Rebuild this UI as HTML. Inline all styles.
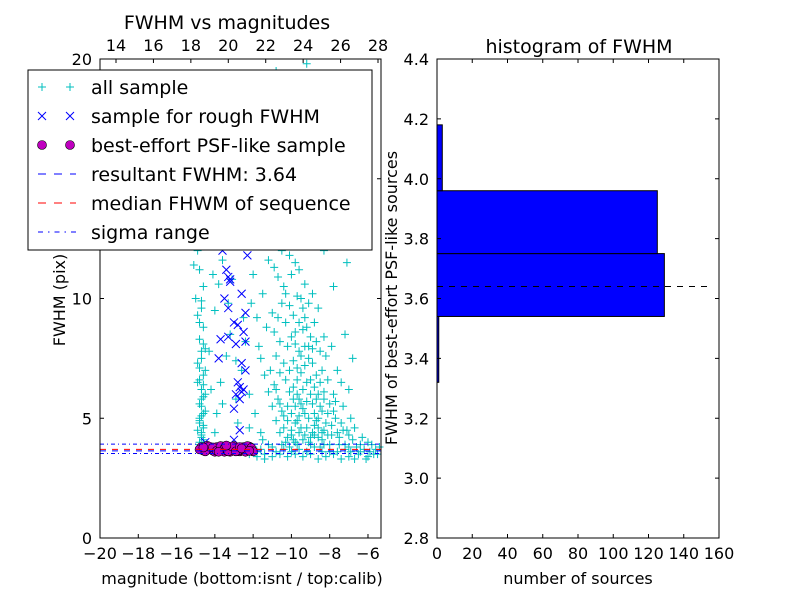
<!DOCTYPE html>
<html><head><meta charset="utf-8"><style>
body{margin:0;background:#fff;}
svg{display:block;font-family:"DejaVu Sans","Liberation Sans",sans-serif;}
</style></head><body>
<svg id="fig" width="800" height="600" xmlns="http://www.w3.org/2000/svg">
<rect width="800" height="600" fill="#fff"/>
<g id="left"></g>
<g id="right"></g>
</svg>
<script>
// ---- data ----
const xTicksBottom = [-20,-18,-16,-14,-12,-10,-8,-6];
const xTicksTop = [14,16,18,20,22,24,26,28];
const yTicksLeft = [0,5,10,15,20];
const resultantFwhm = 3.64;
const medianFwhm = 3.7;
const sigmaRange = [3.53, 3.92];
const allPts = [[-10.2,4.2],[-10.0,4.5],[-9.8,4.8],[-9.6,5.1],[-9.4,5.4],[-9.2,5.7],[-9.0,6.0],[-8.8,5.2],[-8.6,4.6],[-8.4,4.1],[-9.9,6.3],[-9.7,6.6],[-9.5,6.9],[-9.3,7.2],[-9.1,7.5],[-9.6,7.8],[-9.8,8.1],[-10.0,8.4],[-9.4,8.7],[-10.3,9.0],[-9.9,9.3],[-10.1,9.7],[-9.7,10.1],[-10.4,10.5],[-10.0,11.0],[-9.8,11.5],[-10.5,12.0],[-9.5,12.5],[-10.2,13.0],[-9.3,13.8],[-10.6,14.5],[-9.0,15.2],[-10.0,16.0],[-9.6,17.5],[-9.2,19.8],[-8.9,4.4],[-8.7,4.9],[-8.5,5.5],[-8.3,6.1],[-8.1,4.3],[-7.9,4.7],[-7.7,5.0],[-7.5,4.2],[-7.3,4.5],[-8.0,3.9],[-9.1,4.0],[-9.3,4.3],[-9.5,4.6],[-9.7,4.9],[-10.5,5.3],[-10.7,5.8],[-10.9,6.4],[-11.1,7.0],[-10.8,7.6],[-10.6,8.2],[-11.3,8.8],[-11.0,9.4],[-11.5,10.2],[-10.9,11.3],[-11.8,12.2],[-9.0,8.4],[-8.8,9.0],[-8.6,9.6],[-8.4,7.0],[-8.2,7.6],[-9.2,6.5],[-9.4,6.2],[-9.6,5.8],[-9.8,5.5],[-10.0,5.2],[-10.2,4.9],[-10.4,4.6],[-8.7,6.8],[-8.9,7.3],[-9.1,8.0],[-9.3,9.2],[-9.5,10.0],[-9.7,3.9],[-9.9,4.1],[-10.1,3.8],[-8.5,3.8],[-8.3,4.5],[-8.1,5.2],[-7.8,6.0],[-7.6,4.4],[-7.2,3.9],[-6.8,4.1],[-6.5,3.5],[-6.2,3.7],[-6.0,3.4],[-5.8,3.9],[-5.5,3.5],[-7.0,3.4],[-6.6,3.8],[-7.4,3.3],[-7.8,3.5],[-8.2,3.4],[-8.6,3.3],[-9.0,3.5],[-9.4,3.4],[-9.8,3.5],[-10.2,3.4],[-10.6,3.5],[-11.0,3.4],[-11.4,3.5],[-11.8,3.6],[-12.2,3.5],[-10.8,3.6],[-11.6,3.7],[-12.0,3.8],[-11.2,3.9],[-10.4,3.7],[-9.6,3.7],[-8.8,3.8],[-8.0,3.6],[-7.2,3.7],[-6.4,3.6],[-5.6,3.7],[-7.1,4.5],[-6.9,5.0],[-7.3,5.5],[-13.0,12.5],[-12.3,13.5],[-11.5,15.0],[-12.8,16.5],[-13.9,18.0],[-14.5,15.5],[-11.2,18.5],[-10.8,19.5],[-12.0,17.2],[-13.5,14.2],[-14.2,13.2],[-15.0,10.0],[-14.0,9.5],[-13.2,8.5],[-12.5,9.2],[-12.0,11.0],[-11.7,8.0],[-12.6,7.0],[-13.7,6.5],[-13.1,10.8],[-12.2,6.0],[-11.9,5.2],[-12.8,4.8],[-7.8,10.5],[-7.2,8.5],[-7.5,12.8],[-6.8,7.5],[-7.0,6.2],[-12.9,5.8],[-13.4,7.6],[-12.4,8.2],[-14.3,7.8],[-13.6,11.6],[-8.0,19.0],[-9.4,18.5],[-8.4,16.5],[-10.3,17.0],[-11.1,13.2],[-12.7,19.2],[-13.3,9.8],[-14.8,3.9],[-14.6,4.1],[-14.7,4.3],[-14.9,4.5],[-14.6,4.7],[-14.8,4.9],[-14.7,5.1],[-14.5,5.3],[-14.8,5.6],[-14.6,5.9],[-14.7,6.2],[-14.9,6.5],[-14.6,6.8],[-14.8,7.1],[-14.7,7.5],[-14.5,7.9],[-14.8,8.3],[-14.6,8.8],[-14.9,9.3],[-14.7,9.9],[-14.6,10.5],[-14.8,11.2],[-14.7,4.2],[-14.6,4.6],[-14.8,5.0],[-14.7,5.5],[-14.5,6.0],[-14.9,7.3],
[-9.0,4.2],[-9.2,4.6],[-8.8,4.3],[-8.6,5.0],[-8.4,5.3],[-9.1,5.0],[-9.3,5.2],[-8.9,5.6],[-8.7,5.8],[-9.5,5.6],[-9.7,6.0],[-9.9,5.8],[-10.1,6.1],[-10.3,6.6],[-10.1,7.0],[-9.9,7.4],[-9.7,7.1],[-9.5,7.6],[-9.3,8.0],[-9.8,8.6],[-10.2,8.0],[-10.4,7.3],[-10.6,6.9],[-10.8,6.2],[-10.6,5.6],[-10.4,5.1],[-10.2,5.5],[-9.0,6.6],[-8.8,6.3],[-8.6,6.0],[-8.5,6.5],[-8.3,5.8],[-8.1,6.6],[-8.0,5.6],[-7.8,5.3],[-7.9,4.3],[-8.2,4.8],[-8.4,4.4],[-8.6,4.2],[-8.8,4.7],[-9.4,4.1],[-9.6,4.4],[-9.8,4.0],[-10.0,4.3],[-10.3,4.0],[-10.6,4.4],[-10.8,4.9],[-11.0,5.5],[-11.2,6.1],[-11.4,6.8],[-11.6,7.5],[-10.9,8.6],[-10.7,9.2],[-10.5,9.8],[-10.3,10.2],[-10.7,10.9],[-11.2,11.6],[-10.1,11.8],[-9.6,11.2],[-9.3,10.6],[-9.1,9.8],[-8.9,10.2],[-8.7,8.2],[-8.5,7.8],[-8.3,8.4],[-8.9,7.9],[-9.2,8.8],[-9.4,9.6],[-9.6,9.0],[-10.4,12.8],[-10.9,13.6],[-9.8,14.2],[-10.3,15.4],[-9.4,16.2],[-10.7,16.8],[-8.7,14.0],[-8.3,12.0],[-7.9,8.0],[-7.6,7.0],[-7.4,6.5],[-7.7,5.7],[-7.4,4.8],[-7.0,4.3],[-6.7,4.6],[-6.3,4.2],[-6.0,4.0],[-5.9,3.6],[-6.1,3.3],[-6.7,3.3],[-7.6,3.6],[-8.4,3.6],[-9.2,3.6],[-10.0,3.6],[-11.4,3.3],[-11.8,3.4],[-12.1,3.7],[-7.0,3.8],[-6.4,3.9],[-6.9,3.6],[-5.7,3.5],[-5.4,3.8],[-7.5,3.9],[-8.3,3.9],[-9.0,3.9],[-10.5,3.9],[-11.0,3.8],[-11.5,4.1],
[-14.6,4.0],[-14.7,4.4],[-14.8,4.8],[-14.6,5.2],[-14.7,5.8],[-14.6,6.4],[-14.8,6.6],[-14.5,7.0],[-14.7,7.8],[-14.6,8.1],[-14.8,9.0],[-14.7,9.6],[-14.6,3.8],[-14.8,4.0],
[-14.9,12.0],[-15.1,11.4],[-13.8,10.6],[-14.1,11.0],[-13.9,16.0],[-11.9,14.2],[-11.4,16.0],[-12.4,14.8],[-13.6,17.2],[-9.7,19.0],[-8.6,18.0],[-7.7,17.5],[-7.3,15.0],[-6.9,13.2],[-7.1,11.5],[-12.1,9.8],[-11.8,9.2],[-12.9,7.4],[-12.2,4.6],[-11.6,4.4],[-13.9,5.2],[-14.2,6.2],[-13.6,5.6],[-14.0,4.4]];
const roughPts = [[-13.2,10.8],[-13.5,10.0],[-13.0,9.0],[-13.3,9.6],[-12.8,8.9],[-12.5,8.6],[-12.4,8.2],[-13.7,8.3],[-13.3,8.4],[-12.6,7.3],[-12.4,7.0],[-12.8,6.5],[-12.9,6.0],[-12.7,5.8],[-12.5,6.2],[-13.0,5.4],[-12.7,4.5],[-13.1,13.8],[-12.9,12.2],[-13.6,12.0],[-12.3,11.8],[-13.4,11.2],[-12.6,10.2],[-12.4,9.4],[-13.8,7.5],[-13.3,10.9],[-13.2,10.7],[-12.7,6.3],[-12.6,6.1],[-12.9,8.1],[-13.0,4.1],[-14.5,4.0]];
const psfPts = [[-14.7,3.8],[-14.5,3.7],[-14.3,3.75],[-14.1,3.65],[-13.9,3.8],[-13.7,3.7],[-13.5,3.6],[-13.3,3.78],[-13.1,3.68],[-12.9,3.72],[-12.7,3.62],[-12.5,3.8],[-12.3,3.7],[-12.1,3.65],[-14.6,3.65],[-14.4,3.85],[-14.2,3.7],[-14.0,3.6],[-13.8,3.72],[-13.6,3.82],[-13.4,3.66],[-13.2,3.6],[-13.0,3.84],[-12.8,3.76],[-12.6,3.66],[-12.4,3.6],[-12.2,3.82],[-14.8,3.7],[-13.0,3.7],[-12.5,3.7],[-14.5,3.62],[-14.3,3.82],[-14.1,3.78],[-13.9,3.64],[-13.7,3.84],[-13.5,3.74],[-13.3,3.62],[-13.1,3.82],[-12.9,3.62],[-12.7,3.8],[-12.3,3.84],[-12.1,3.76],[-12.0,3.62],[-14.6,3.78],[-13.8,3.6],[-13.4,3.86],[-12.6,3.74],[-12.2,3.64]];
const binEdges = [3.32,3.54,3.75,3.96,4.18];
const binCounts = [1,129,125,3];
const xTicksRight = [0,20,40,60,80,100,120,140,160];
const yTicksRight = [2.8,3.0,3.2,3.4,3.6,3.8,4.0,4.2,4.4];

const NS='http://www.w3.org/2000/svg';
function mk(parent,tag,attrs,text){const e=document.createElementNS(NS,tag);for(const k in attrs)e.setAttribute(k,attrs[k]);if(text!==undefined)e.textContent=text;parent.appendChild(e);return e;}

// ---- left panel ----
const L=document.getElementById('left');
const LX0=100,LX1=381,LY0=538,LY1=59;
const lx=m=>LX0+(m+20)/(14.68)*(LX1-LX0);
const ly=f=>LY0-f/20*(LY0-LY1);
const tx=v=>116+(v-14)/14*(378-116);
const H=4;

let e;
const cyan=mk(L,'g',{stroke:'#00bfbf','stroke-width':1});


allPts.forEach(p=>{const x=lx(p[0]),y=ly(p[1]);
 e=mk(cyan,'path',{d:`M${x-H},${y}H${x+H}M${x},${y-H}V${y+H}`});
 
 });
const blue=mk(L,'g',{stroke:'#0000ff','stroke-width':1});


roughPts.forEach(p=>{const x=lx(p[0]),y=ly(p[1]);
 e=mk(blue,'path',{d:`M${x-H},${y-H}L${x+H},${y+H}M${x-H},${y+H}L${x+H},${y-H}`});
 
 });
const mag=mk(L,'g',{fill:'#bf00bf',stroke:'#000','stroke-width':0.6});


psfPts.forEach(p=>{e=mk(mag,'circle',{cx:lx(p[0]),cy:ly(p[1]),r:4.5});
 
 });
sigmaRange.forEach(s=>{e=mk(L,'line',{x1:LX0,x2:LX1,y1:ly(s),y2:ly(s),stroke:'#0000ff','stroke-dasharray':'4 3 1 3'});
 
 });
e=mk(L,'line',{x1:LX0,x2:LX1,y1:ly(medianFwhm),y2:ly(medianFwhm),stroke:'#ff0000','stroke-dasharray':'6 6'});


e=mk(L,'line',{x1:LX0,x2:LX1,y1:ly(resultantFwhm),y2:ly(resultantFwhm),stroke:'#0000ff','stroke-dasharray':'6 6'});



e=mk(L,'rect',{x:LX0,y:LY1,width:LX1-LX0,height:LY0-LY1,fill:'none',stroke:'#000'});


xTicksBottom.forEach(v=>{const x=lx(v);
 mk(L,'path',{d:`M${x},${LY0}v-4`,stroke:'#000'});
 e=mk(L,'text',{x:x,y:LY0+21,'text-anchor':'middle','font-size':16},v<0?'\u2212'+(-v):v);
 
 });
xTicksTop.forEach(v=>{const x=tx(v);
 mk(L,'path',{d:`M${x},${LY1}v4`,stroke:'#000'});
 e=mk(L,'text',{x:x,y:LY1-8,'text-anchor':'middle','font-size':16},v);
 
 });
yTicksLeft.forEach(v=>{const y=ly(v);
 mk(L,'path',{d:`M${LX0},${y}h4M${LX1},${y}h-4`,stroke:'#000'});
 e=mk(L,'text',{x:LX0-8,y:y+6,'text-anchor':'end','font-size':16},v);
 
 });
e=mk(L,'text',{x:242,y:584,'text-anchor':'middle','font-size':16},'magnitude (bottom:isnt / top:calib)');


e=mk(L,'text',{x:65,y:300,'text-anchor':'middle','font-size':16,transform:'rotate(-90 65 300)'},'FWHM (pix)');


e=mk(L,'text',{x:227,y:29,'text-anchor':'middle','font-size':19},'FWHM vs magnitudes');



// legend
const lg=mk(L,'g',{});


mk(lg,'rect',{x:28,y:70,width:344,height:180,fill:'#fff',stroke:'#000'});
const labels=['all sample','sample for rough FWHM','best-effort PSF-like sample','resultant FWHM: 3.64','median FHWM of sequence','sigma range'];
labels.forEach((t,i)=>{const y=87+i*29;
 if(i==0){[42,70].forEach(x=>mk(lg,'path',{d:`M${x-4},${y}h8M${x},${y-4}v8`,stroke:'#00bfbf'}));}
 if(i==1){[42,70].forEach(x=>mk(lg,'path',{d:`M${x-4},${y-4}l8,8M${x-4},${y+4}l8,-8`,stroke:'#0000ff'}));}
 if(i==2){[42,70].forEach(x=>mk(lg,'circle',{cx:x,cy:y,r:4.5,fill:'#bf00bf',stroke:'#000','stroke-width':0.6}));}
 if(i==3)mk(lg,'line',{x1:38,x2:76,y1:y,y2:y,stroke:'#0000ff','stroke-dasharray':'8 8'});
 if(i==4)mk(lg,'line',{x1:38,x2:76,y1:y,y2:y,stroke:'#ff0000','stroke-dasharray':'8 8'});
 if(i==5)mk(lg,'line',{x1:38,x2:76,y1:y,y2:y,stroke:'#0000ff','stroke-dasharray':'5 5 1.5 5'});
 e=mk(lg,'text',{x:91,y:y+7,'font-size':19},t);
 
 });

// ---- right panel ----
const R=document.getElementById('right');
const RX0=437,RX1=719,RY0=538,RY1=59;
const rx=c=>RX0+c/160*(RX1-RX0);
const ry=v=>RY0-(v-2.8)/1.6*(RY0-RY1);
binCounts.forEach((c,i)=>{
 e=mk(R,'rect',{x:rx(0),y:ry(binEdges[i+1]),width:rx(c)-rx(0),height:ry(binEdges[i])-ry(binEdges[i+1]),fill:'#0000ff',stroke:'#000'});
 
 });
e=mk(R,'line',{x1:RX0,x2:712,y1:ry(resultantFwhm),y2:ry(resultantFwhm),stroke:'#000','stroke-dasharray':'6 6'});


e=mk(R,'rect',{x:RX0,y:RY1,width:RX1-RX0,height:RY0-RY1,fill:'none',stroke:'#000'});


xTicksRight.forEach(v=>{const x=rx(v);
 mk(R,'path',{d:`M${x},${RY0}v-4M${x},${RY1}v4`,stroke:'#000'});
 e=mk(R,'text',{x:x,y:RY0+21,'text-anchor':'middle','font-size':16},v);
 
 });
yTicksRight.forEach(v=>{const y=ry(v);
 mk(R,'path',{d:`M${RX0},${y}h4M${RX1},${y}h-4`,stroke:'#000'});
 e=mk(R,'text',{x:RX0-8,y:y+6,'text-anchor':'end','font-size':16},v.toFixed(1));
 
 });
e=mk(R,'text',{x:578,y:584,'text-anchor':'middle','font-size':16},'number of sources');


e=mk(R,'text',{x:397,y:298,'text-anchor':'middle','font-size':16,transform:'rotate(-90 397 298)'},'FWHM of best-effort PSF-like sources');


e=mk(R,'text',{x:579,y:53,'text-anchor':'middle','font-size':19},'histogram of FWHM');


</script>
</body></html>
